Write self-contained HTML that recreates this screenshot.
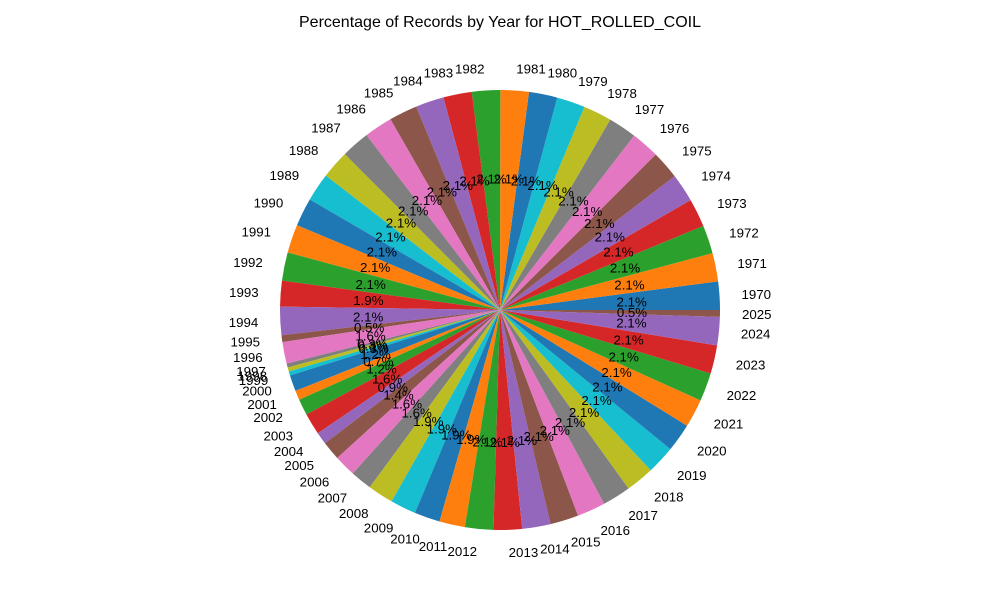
<!DOCTYPE html>
<html><head><meta charset="utf-8"><style>
body{margin:0;background:#fff;}
svg{display:block;font-family:"Liberation Sans","DejaVu Sans",sans-serif;}
</style></head><body>
<svg id="chart" width="1000" height="600">
<text x="500" y="27" text-anchor="middle" font-size="16">Percentage of Records by Year for HOT_ROLLED_COIL</text>
<g id="slices"></g>
<g id="labels"></g>
</svg>
<script>
const years = [];
for (let y = 1970; y <= 2025; y++) years.push(String(y));
const values = [2.1,2.1,2.1,2.1,2.1,2.1,2.1,2.1,2.1,2.1,2.1,2.1,2.1,2.1,2.1,2.1,2.1,2.1,2.1,2.1,2.1,2.1,2.1,
 1.9,2.1,0.5,1.6,0.3,0.3,0.3,1.2,0.7,1.2,1.6,0.9,1.4,1.6,1.6,1.9,1.9,1.9,1.9,
 2.1,2.1,2.1,2.1,2.1,2.1,2.1,2.1,2.1,2.1,2.1,2.1,2.1,0.5];
const colors = ["#1f77b4","#ff7f0e","#2ca02c","#d62728","#9467bd","#8c564b","#e377c2","#7f7f7f","#bcbd22","#17becf"];
const cx = 500, cy = 310, R = 220;
const NS = "http://www.w3.org/2000/svg";
const total = values.reduce((a,b)=>a+b,0);
const gS = document.getElementById('slices'), gL = document.getElementById('labels');
let ang = 0;
function pt(a, r){ return [cx + r*Math.cos(a*Math.PI/180), cy - r*Math.sin(a*Math.PI/180)]; }
values.forEach((v,i)=>{
  const sweep = v/total*360;
  const a0 = ang, a1 = ang + sweep;
  const p0 = pt(a0,R), p1 = pt(a1,R);
  const path = document.createElementNS(NS,'path');
  path.setAttribute('d',`M${cx},${cy} L${p0[0]},${p0[1]} A${R},${R} 0 ${sweep>180?1:0} 0 ${p1[0]},${p1[1]} Z`);
  path.setAttribute('fill',colors[i%10]);
  
  
  gS.appendChild(path);
  const mid = (a0+a1)/2;
  const lp = pt(mid, R*1.1);
  const t = document.createElementNS(NS,'text');
  t.setAttribute('x',lp[0]); t.setAttribute('y',lp[1]+5);
  t.setAttribute('font-size','13.3');
  t.setAttribute('text-anchor', Math.cos(mid*Math.PI/180) >= 0 ? 'start' : 'end');
  t.textContent = years[i];
  
  
  gL.appendChild(t);
  const pp = pt(mid, R*0.6);
  const t2 = document.createElementNS(NS,'text');
  t2.setAttribute('x',pp[0]); t2.setAttribute('y',pp[1]+5);
  t2.setAttribute('font-size','13.3');
  t2.setAttribute('text-anchor','middle');
  t2.textContent = (v/total*100).toFixed(1)+'%';
  
  
  gL.appendChild(t2);
  ang = a1;
});
</script>
</body></html>
